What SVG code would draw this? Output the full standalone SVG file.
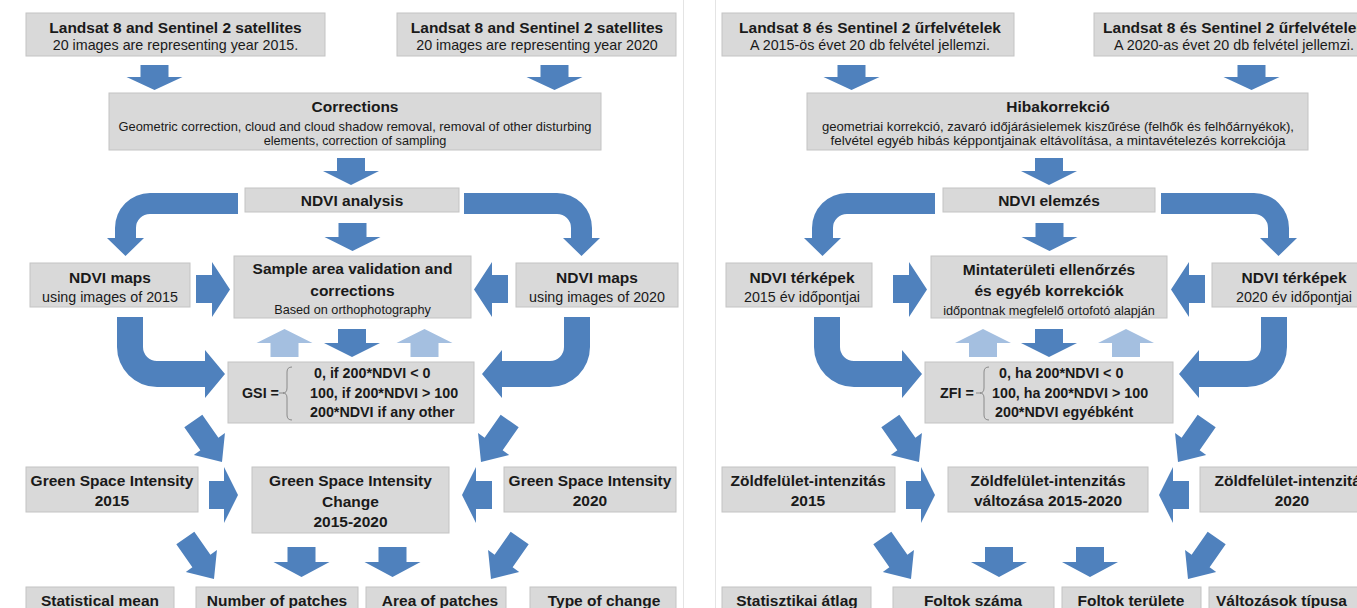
<svg xmlns="http://www.w3.org/2000/svg" xmlns:xlink="http://www.w3.org/1999/xlink" width="1357" height="608" viewBox="0 0 1357 608">
<style>
.box{fill:#d9d9d9;stroke:#c3c3c3;stroke-width:1}
.t{font-family:"Liberation Sans",Arial,sans-serif;font-weight:bold;font-size:15.5px;fill:#1a1a1a;text-anchor:middle}
.s{font-family:"Liberation Sans",Arial,sans-serif;font-size:14.3px;fill:#1a1a1a;text-anchor:middle}
.x{font-family:"Liberation Sans",Arial,sans-serif;font-size:12.7px;fill:#1a1a1a;text-anchor:middle}
.f{font-family:"Liberation Sans",Arial,sans-serif;font-weight:bold;font-size:14.3px;fill:#1a1a1a;text-anchor:start}
.ar{fill:#4f81bd}
.lt{fill:#a4bfe0}
.br{fill:none;stroke:#8a8a8a;stroke-width:1}
.sep{stroke:#e4e4e4;stroke-width:1}
</style>
<defs>
<path id="diag" d="M-11,-50 H11 V-22 H19 L0,0 L-19,-22 H-11 Z"/>
</defs>
<rect x="0" y="0" width="1357" height="608" fill="#ffffff"/>
<line class="sep" x1="683.5" y1="0" x2="683.5" y2="608"/>
<line class="sep" x1="715.5" y1="0" x2="715.5" y2="608"/>

<g id="connectors">
<!-- left panel -->
<path class="ar" d="M140.5,65 H168.5 V77 H182.5 L154.5,90 L126.5,77 H140.5 Z"/>
<path class="ar" d="M540.5,65 H568.5 V77 H582.5 L554.5,90 L526.5,77 H540.5 Z"/>
<path class="ar" d="M337,158 H365 V171 H379 L351,185 L323,171 H337 Z"/>
<path class="ar" d="M338.5,223 H366.5 V237 H380.5 L352.5,251 L324.5,237 H338.5 Z"/>
<path class="ar" d="M238,193 H150 A35,35 0 0 0 115,228 V238 H107 L125.5,256 L144,238 H136 V228 A14,14 0 0 1 150,214 H238 Z"/>
<path class="ar" d="M464,193 H557 A35,35 0 0 1 592,228 V238 H600 L581.5,256 L563,238 H571 V228 A14,14 0 0 0 557,214 H464 Z"/>
<path class="ar" d="M196,275 H212 V262 L230,289.5 L212,317 V303 H196 Z"/>
<path class="ar" d="M508,275 H492 V262 L474,289.5 L492,317 V303 H508 Z"/>
<path class="lt" d="M270.5,357 V343 H256.5 L284.5,329 L312.5,343 H298.5 V357 Z"/>
<path class="ar" d="M338,329 H366 V343 H380 L352,357 L324,343 H338 Z"/>
<path class="lt" d="M410.5,357 V343 H396.5 L424.5,329 L452.5,343 H438.5 V357 Z"/>
<path class="ar" d="M117,317 H143 V347 A14,14 0 0 0 157,361 H205 V350 L225,374 L205,398 V387 H157 A40,40 0 0 1 117,347 Z"/>
<path class="ar" d="M590,317 H564 V347 A14,14 0 0 1 550,361 H502 V350 L482,374 L502,398 V387 H550 A40,40 0 0 0 590,347 Z"/>
<use class="ar" xlink:href="#diag" href="#diag" transform="translate(222,462) rotate(-35)"/>
<use class="ar" xlink:href="#diag" href="#diag" transform="translate(481,462) rotate(35)"/>
<path class="ar" d="M209,481 H224 V467 L238,495 L224,523 V509 H209 Z"/>
<path class="ar" d="M492,481 H476 V467 L462,495 L476,523 V509 H492 Z"/>
<use class="ar" xlink:href="#diag" href="#diag" transform="translate(214,579) rotate(-35)"/>
<use class="ar" xlink:href="#diag" href="#diag" transform="translate(491,579) rotate(35)"/>
<path class="ar" d="M287.5,547 H315.5 V562 H329.5 L301.5,577 L273.5,562 H287.5 Z"/>
<path class="ar" d="M378.5,547 H406.5 V562 H420.5 L392.5,577 L364.5,562 H378.5 Z"/>
<!-- right panel -->
<path class="ar" d="M837.5,65 H865.5 V77 H879.5 L851.5,90 L823.5,77 H837.5 Z"/>
<path class="ar" d="M1237.5,65 H1265.5 V77 H1279.5 L1251.5,90 L1223.5,77 H1237.5 Z"/>
<path class="ar" d="M1035,158 H1063 V171 H1077 L1049,185 L1021,171 H1035 Z"/>
<path class="ar" d="M1035.5,223 H1063.5 V237 H1077.5 L1049.5,251 L1021.5,237 H1035.5 Z"/>
<path class="ar" d="M935,193 H847 A35,35 0 0 0 812,228 V238 H804 L822.5,256 L841,238 H833 V228 A14,14 0 0 1 847,214 H935 Z"/>
<path class="ar" d="M1161,193 H1254 A35,35 0 0 1 1289,228 V238 H1297 L1278.5,256 L1260,238 H1268 V228 A14,14 0 0 0 1254,214 H1161 Z"/>
<path class="ar" d="M893,275 H909 V262 L927,289.5 L909,317 V303 H893 Z"/>
<path class="ar" d="M1205,275 H1189 V262 L1171,289.5 L1189,317 V303 H1205 Z"/>
<path class="lt" d="M969,357 V343 H955 L983,329 L1011,343 H997 V357 Z"/>
<path class="ar" d="M1035,329 H1063 V343 H1077 L1049,357 L1021,343 H1035 Z"/>
<path class="lt" d="M1112,357 V343 H1098 L1126,329 L1154,343 H1140 V357 Z"/>
<path class="ar" d="M814,317 H840 V347 A14,14 0 0 0 854,361 H902 V350 L922,374 L902,398 V387 H854 A40,40 0 0 1 814,347 Z"/>
<path class="ar" d="M1287,317 H1261 V347 A14,14 0 0 1 1247,361 H1199 V350 L1179,374 L1199,398 V387 H1247 A40,40 0 0 0 1287,347 Z"/>
<use class="ar" xlink:href="#diag" href="#diag" transform="translate(919,462) rotate(-35)"/>
<use class="ar" xlink:href="#diag" href="#diag" transform="translate(1178,462) rotate(35)"/>
<path class="ar" d="M906,481 H921 V467 L935,495 L921,523 V509 H906 Z"/>
<path class="ar" d="M1189,481 H1173 V467 L1159,495 L1173,523 V509 H1189 Z"/>
<use class="ar" xlink:href="#diag" href="#diag" transform="translate(911,579) rotate(-35)"/>
<use class="ar" xlink:href="#diag" href="#diag" transform="translate(1188,579) rotate(35)"/>
<path class="ar" d="M985,547 H1013 V562 H1027 L999,577 L971,562 H985 Z"/>
<path class="ar" d="M1076,547 H1104 V562 H1118 L1090,577 L1062,562 H1076 Z"/>
</g>

<!-- LEFT PANEL NODES -->
<g id="en-sat2015"><rect class="box" x="26" y="13" width="299" height="43"/>
<text class="t" x="175.5" y="32.5">Landsat 8 and Sentinel 2 satellites</text>
<text class="s" x="175.5" y="50">20 images are representing year 2015.</text></g>
<g id="en-sat2020"><rect class="box" x="397" y="13" width="279" height="43"/>
<text class="t" x="537" y="32.5">Landsat 8 and Sentinel 2 satellites</text>
<text class="s" x="537" y="50">20 images are representing year 2020</text></g>
<g id="en-corrections"><rect class="box" x="109" y="93" width="492" height="57"/>
<text class="t" x="355" y="111.5">Corrections</text>
<text class="x" x="355" y="130.5" textLength="473" lengthAdjust="spacingAndGlyphs">Geometric correction, cloud and cloud shadow removal, removal of other disturbing</text>
<text class="x" x="355" y="144.5">elements, correction of sampling</text></g>
<g id="en-ndvi"><rect class="box" x="245" y="188" width="214" height="24"/>
<text class="t" x="352" y="205.5">NDVI analysis</text></g>
<g id="en-maps2015"><rect class="box" x="30" y="263" width="160" height="44"/>
<text class="t" x="110" y="282.5">NDVI maps</text>
<text class="s" x="110" y="302">using images of 2015</text></g>
<g id="en-sample"><rect class="box" x="234" y="256" width="237" height="62"/>
<text class="t" x="352.5" y="273.5">Sample area validation and</text>
<text class="t" x="352.5" y="295.5">corrections</text>
<text class="x" x="352.5" y="313.5">Based on orthophotography</text></g>
<g id="en-maps2020"><rect class="box" x="516" y="263" width="162" height="44"/>
<text class="t" x="597" y="282.5">NDVI maps</text>
<text class="s" x="597" y="302">using images of 2020</text></g>
<g id="en-gsi"><rect class="box" x="228" y="362" width="246" height="61"/>
<text class="f" x="242" y="398">GSI =</text>
<path class="br" d="M279,393 H284 M292,367 Q287,367 287,372 V388 Q287,393 283,393 Q287,393 287,398 V415 Q287,420 292,420"/>
<text class="f" x="314" y="378">0, if 200*NDVI &lt; 0</text>
<text class="f" x="310" y="398">100, if 200*NDVI &gt; 100</text>
<text class="f" x="310" y="417">200*NDVI if any other</text></g>
<g id="en-gsi2015"><rect class="box" x="26" y="467" width="172" height="45"/>
<text class="t" x="112" y="485.5">Green Space Intensity</text>
<text class="t" x="112" y="505.5">2015</text></g>
<g id="en-change"><rect class="box" x="252" y="467" width="197" height="66"/>
<text class="t" x="350.5" y="485.5">Green Space Intensity</text>
<text class="t" x="350.5" y="506.5">Change</text>
<text class="t" x="350.5" y="526.5">2015-2020</text></g>
<g id="en-gsi2020"><rect class="box" x="504" y="467" width="172" height="45"/>
<text class="t" x="590" y="485.5">Green Space Intensity</text>
<text class="t" x="590" y="505.5">2020</text></g>
<g id="en-mean"><rect class="box" x="26" y="587" width="148" height="34"/>
<text class="t" x="100" y="605.5">Statistical mean</text></g>
<g id="en-number"><rect class="box" x="196" y="587" width="162" height="34"/>
<text class="t" x="277" y="605.5">Number of patches</text></g>
<g id="en-area"><rect class="box" x="366" y="587" width="140" height="34"/>
<text class="t" x="440" y="605.5">Area of patches</text></g>
<g id="en-type"><rect class="box" x="530" y="587" width="146" height="34"/>
<text class="t" x="604" y="605.5">Type of change</text></g>

<!-- RIGHT PANEL NODES -->
<g id="hu-sat2015"><rect class="box" x="722" y="13" width="292" height="43"/>
<text class="t" x="870" y="32.5">Landsat 8 és Sentinel 2 űrfelvételek</text>
<text class="s" x="870" y="50">A 2015-ös évet 20 db felvétel jellemzi.</text></g>
<g id="hu-sat2020"><rect class="box" x="1094" y="13" width="300" height="43"/>
<text class="t" x="1234" y="32.5">Landsat 8 és Sentinel 2 űrfelvételek</text>
<text class="s" x="1234" y="50">A 2020-as évet 20 db felvétel jellemzi.</text></g>
<g id="hu-corrections"><rect class="box" x="807" y="93" width="501" height="57"/>
<text class="t" x="1058" y="111.5">Hibakorrekció</text>
<text class="x" x="1058" y="130.5" textLength="472" lengthAdjust="spacingAndGlyphs">geometriai korrekció, zavaró időjárásielemek kiszűrése (felhők és felhőárnyékok),</text>
<text class="x" x="1058" y="144.5" textLength="455" lengthAdjust="spacingAndGlyphs">felvétel egyéb hibás képpontjainak eltávolítása, a mintavételezés korrekciója</text></g>
<g id="hu-ndvi"><rect class="box" x="943" y="188" width="212" height="24"/>
<text class="t" x="1049" y="205.5">NDVI elemzés</text></g>
<g id="hu-maps2015"><rect class="box" x="726" y="263" width="146" height="44"/>
<text class="t" x="802" y="282.5">NDVI térképek</text>
<text class="s" x="802" y="302">2015 év időpontjai</text></g>
<g id="hu-sample"><rect class="box" x="931" y="256" width="236" height="62"/>
<text class="t" x="1049" y="274.5">Mintaterületi ellenőrzés</text>
<text class="t" x="1049" y="295.5">és egyéb korrekciók</text>
<text class="x" x="1049" y="314.5">időpontnak megfelelő ortofotó alapján</text></g>
<g id="hu-maps2020"><rect class="box" x="1212" y="263" width="170" height="44"/>
<text class="t" x="1294" y="282.5">NDVI térképek</text>
<text class="s" x="1294" y="302">2020 év időpontjai</text></g>
<g id="hu-zfi"><rect class="box" x="925" y="362" width="248" height="61"/>
<text class="f" x="940" y="398">ZFI =</text>
<path class="br" d="M976,393 H981 M989,367 Q984,367 984,372 V388 Q984,393 980,393 Q984,393 984,398 V415 Q984,420 989,420"/>
<text class="f" x="999" y="378">0, ha 200*NDVI &lt; 0</text>
<text class="f" x="992" y="398">100, ha 200*NDVI &gt; 100</text>
<text class="f" x="995" y="417">200*NDVI egyébként</text></g>
<g id="hu-zfi2015"><rect class="box" x="722" y="467" width="173" height="45"/>
<text class="t" x="808" y="485.5">Zöldfelület-intenzitás</text>
<text class="t" x="808" y="505.5">2015</text></g>
<g id="hu-change"><rect class="box" x="948" y="467" width="200" height="45"/>
<text class="t" x="1048" y="485.5">Zöldfelület-intenzitás</text>
<text class="t" x="1048" y="505.5">változása 2015-2020</text></g>
<g id="hu-zfi2020"><rect class="box" x="1200" y="467" width="190" height="45"/>
<text class="t" x="1292" y="485.5">Zöldfelület-intenzitás</text>
<text class="t" x="1292" y="505.5">2020</text></g>
<g id="hu-mean"><rect class="box" x="722" y="587" width="149" height="34"/>
<text class="t" x="797" y="605.5">Statisztikai átlag</text></g>
<g id="hu-number"><rect class="box" x="893" y="587" width="161" height="34"/>
<text class="t" x="973" y="605.5">Foltok száma</text></g>
<g id="hu-area"><rect class="box" x="1062" y="587" width="139" height="34"/>
<text class="t" x="1131" y="605.5">Foltok területe</text></g>
<g id="hu-type"><rect class="box" x="1209" y="587" width="180" height="34"/>
<text class="t" x="1216" y="605.5" style="text-anchor:start">Változások típusa</text></g>
</svg>
